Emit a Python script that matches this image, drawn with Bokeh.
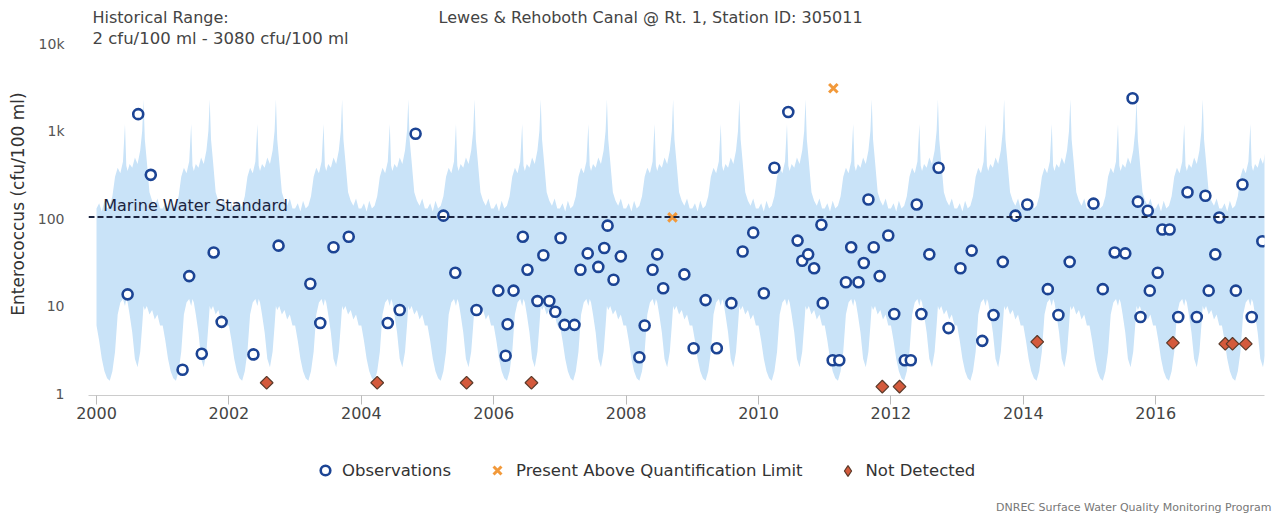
import math
from bokeh.plotting import figure
from bokeh.layouts import column, row
from bokeh.models import Span, Label, Legend, LegendItem, FixedTicker
from bokeh.embed import file_html
from bokeh.resources import INLINE

# ---------------- data ----------------
obs_x = [2000.47, 2000.63, 2000.82, 2001.30, 2001.40, 2001.59, 2001.77, 2001.89, 2002.37, 2002.75,
         2003.23, 2003.38, 2003.58, 2003.81, 2004.40, 2004.58, 2004.82, 2005.24, 2005.42, 2005.74,
         2006.07, 2006.18, 2006.21, 2006.30, 2006.44, 2006.51, 2006.66, 2006.75, 2006.84, 2006.93,
         2007.01, 2007.07, 2007.22, 2007.31, 2007.42, 2007.58, 2007.67, 2007.72, 2007.81, 2007.92,
         2008.20, 2008.28, 2008.40, 2008.47, 2008.56, 2008.88, 2009.02, 2009.20, 2009.37, 2009.59,
         2009.76, 2009.92, 2010.08, 2010.24, 2010.45, 2010.59, 2010.66, 2010.75, 2010.84, 2010.95,
         2010.97, 2011.12, 2011.22, 2011.32, 2011.40, 2011.51, 2011.59, 2011.66, 2011.74, 2011.83,
         2011.96, 2012.05, 2012.21, 2012.30, 2012.39, 2012.46, 2012.58, 2012.72, 2012.87, 2013.05,
         2013.22, 2013.38, 2013.55, 2013.69, 2013.88, 2014.06, 2014.37, 2014.53, 2014.70, 2015.06,
         2015.20, 2015.38, 2015.54, 2015.65, 2015.73, 2015.77, 2015.88, 2015.91, 2016.03, 2016.10,
         2016.21, 2016.34, 2016.48, 2016.62, 2016.75, 2016.80, 2016.90, 2016.96, 2017.21, 2017.31,
         2017.45, 2017.61]
obs_y = [13.6, 1560, 316, 1.87, 22, 2.85, 41, 6.6, 2.8, 49,
         18, 6.4, 47, 62, 6.4, 9, 930, 108, 24, 9,
         15, 2.7, 6.2, 15, 62, 26, 11.4, 38, 11.4, 8.6,
         60, 6.1, 6.1, 26, 40, 28, 46, 83, 20, 37,
         2.6, 6.0, 26, 39, 16, 23, 3.3, 11.7, 3.3, 10.8,
         42, 69, 14, 380, 1650, 56, 33, 39, 27, 85,
         10.8, 2.4, 2.4, 18.7, 47, 18.7, 31, 165, 47, 22,
         64, 8.1, 2.4, 2.4, 145, 8.1, 39, 380, 5.6, 27,
         43, 4.0, 7.9, 32, 108, 145, 15.6, 7.9, 32, 148,
         15.6, 41, 40, 2370, 156, 7.5, 123, 15, 24, 75,
         75, 7.5, 200, 7.5, 182, 15, 39, 103, 15, 245,
         7.5, 55]

paql_x = [2008.70, 2011.13]
paql_y = [103, 3080]

nd_x = [2002.57, 2004.24, 2005.59, 2006.57, 2011.87, 2012.13, 2014.21, 2016.26, 2017.05, 2017.16, 2017.36]
nd_y = [1.33, 1.33, 1.33, 1.33, 1.2, 1.2, 3.9, 3.8, 3.7, 3.7, 3.7]

# historical range by time of year (same profile every year)
band_frac = [0.00, 0.04, 0.08, 0.12, 0.16, 0.20, 0.24, 0.28, 0.32, 0.36, 0.40, 0.43, 0.45, 0.47,
             0.50, 0.54, 0.58, 0.62, 0.66, 0.69, 0.71, 0.73, 0.76, 0.80, 0.84, 0.88, 0.92, 0.96]
band_upper = [130, 150, 120, 160, 130, 140, 180, 300, 380, 330, 450, 1200, 400, 350,
              420, 380, 500, 420, 600, 1000, 2300, 800, 450, 200, 160, 140, 170, 130]
band_lower = [6, 4, 2.5, 1.8, 1.5, 1.4, 1.8, 3, 8, 11, 12, 10, 12, 11,
              8, 5, 2.5, 2, 3, 6, 10, 9, 10, 8, 9, 7, 8, 6]
band_years = list(range(2000, 2018))

standard = 104
x_ticks = [2000, 2002, 2004, 2006, 2008, 2010, 2012, 2014, 2016]
y_ticks = [1, 10, 100, 1000, 10000]
y_tick_labels = ["1", "10", "100", "1k", "10k"]

title_text = "Lewes & Rehoboth Canal @ Rt. 1, Station ID: 305011"
range_text_1 = "Historical Range:"
range_text_2 = "2 cfu/100 ml - 3080 cfu/100 ml"
y_label_text = "Enterococcus (cfu/100 ml)"
footer_text = "DNREC Surface Water Quality Monitoring Program"
legend_labels = ["Observations", "Present Above Quantification Limit", "Not Detected"]

# ---------------- styles ----------------
FONT = "DejaVu Sans"
OBS = dict(marker="circle", size=10, line_color="#1c4494", line_width=2.6, fill_color="white")
PAQL = dict(marker="x", size=12, line_color="#f2993a", line_width=3)
ND = dict(marker="square", angle=0.785398, size=9, fill_color="#d45a3c",
          line_color="#5a3a2a", line_width=1.2)
ND_LEG = dict(marker="diamond", size=9, fill_color="#d45a3c",
              line_color="#5a3a2a", line_width=1.2)

# ---------------- band ----------------
bx, blo, bhi = [], [], []
for yr in band_years:
    for f, lo, hi in zip(band_frac, band_lower, band_upper):
        bx.append(yr + f)
        blo.append(lo)
        bhi.append(hi)
bx.append(band_years[-1] + 1.0)
blo.append(band_lower[0])
bhi.append(band_upper[0])

# page geometry: frame from y=0 (top of canvas) to y=395, 87.5 px per decade
PX_DEC = 87.5
Y_LO = 0.95
Y_HI = 10 ** (math.log10(Y_LO) + 395 / PX_DEC)


def yv(py):
    return 10 ** (math.log10(Y_LO) + (395 - py) / PX_DEC)


def clean(fig):
    fig.outline_line_color = None
    fig.xgrid.visible = False
    fig.ygrid.visible = False
    fig.background_fill_color = "white"
    fig.border_fill_color = "white"


# ---------------- main figure ----------------
p = figure(width=1242, height=425, y_axis_type="log",
           x_range=(1999.879, 2017.643), y_range=(Y_LO, Y_HI),
           output_backend="svg", toolbar_location=None,
           min_border_left=58, min_border_right=8, min_border_top=0, min_border_bottom=30)
clean(p)

p.varea(x=bx, y1=blo, y2=bhi, fill_color="#c9e3f8", fill_alpha=1.0)

p.add_layout(Span(location=standard, dimension="width", line_color="#1b2440",
                  line_width=2, line_dash="6 3"))
p.add_layout(Label(x=2000.1, y=standard, y_offset=2, text="Marine Water Standard",
                   text_font=FONT, text_font_size="16px", text_color="#1b2440",
                   text_baseline="bottom", text_align="left"))

p.scatter(obs_x, obs_y, **OBS)
p.scatter(paql_x, paql_y, **PAQL)
p.scatter(nd_x, nd_y, **ND)

xa = p.xaxis[0]
xa.ticker = FixedTicker(ticks=x_ticks)
xa.axis_line_color = "#cccccc"
xa.major_tick_line_color = "#bbbbbb"
xa.major_tick_out = 9
xa.major_tick_in = 0
xa.minor_tick_line_color = None
xa.major_label_standoff = 2
xa.major_label_text_font = FONT
xa.major_label_text_font_size = "16px"
xa.major_label_text_color = "#444444"

ya = p.yaxis[0]
ya.ticker = FixedTicker(ticks=y_ticks)
ya.major_label_overrides = {t: lab for t, lab in zip(y_ticks, y_tick_labels)}
ya.axis_line_color = None
ya.major_tick_line_color = None
ya.minor_tick_line_color = None
ya.major_label_standoff = 18
ya.major_label_text_font = FONT
ya.major_label_text_font_size = "14px"
ya.major_label_text_color = "#555555"

p.add_layout(Label(x=2008.37, y=yv(17), text=title_text,
                   text_font=FONT, text_font_size="16px", text_color="#444444",
                   text_align="center", text_baseline="middle"))
p.add_layout(Label(x=1999.94, y=yv(17), text=range_text_1,
                   text_font=FONT, text_font_size="16px", text_color="#444444",
                   text_align="left", text_baseline="middle"))
p.add_layout(Label(x=1999.94, y=yv(38), text=range_text_2,
                   text_font=FONT, text_font_size="16.5px", text_color="#444444",
                   text_align="left", text_baseline="middle"))

# ---------------- y-label strip ----------------
yl = figure(width=30, height=425, x_range=(0, 30), y_range=(425, 0),
            output_backend="svg", toolbar_location=None,
            min_border_left=0, min_border_right=0, min_border_top=0, min_border_bottom=0)
clean(yl)
yl.axis.visible = False
yl.add_layout(Label(x=17, y=219, text=y_label_text, angle=math.pi / 2,
                    text_font=FONT, text_font_size="17px", text_color="#333333",
                    text_align="center", text_baseline="middle"))

# ---------------- footer: legend + credit ----------------
ft = figure(width=1272, height=90, x_range=(0, 1272), y_range=(515, 425),
            output_backend="svg", toolbar_location=None,
            min_border_left=0, min_border_right=0, min_border_top=0, min_border_bottom=0)
clean(ft)
ft.axis.visible = False
NAN = [float("nan")]
lr_obs = ft.scatter(x=NAN, y=NAN, **OBS)
lr_paql = ft.scatter(x=NAN, y=NAN, **PAQL)
lr_nd = ft.scatter(x=NAN, y=NAN, **ND_LEG)


def add_leg(label, rend, center_x, center_y, g):
    leg = Legend(items=[LegendItem(label=label, renderers=[rend], index=0)],
                 location=(center_x - g / 2, 515 - (center_y + g / 2)),
                 orientation="horizontal", glyph_width=g, glyph_height=g,
                 label_standoff=5, padding=0, margin=0, border_line_color=None,
                 background_fill_alpha=0, label_text_font=FONT, label_text_font_size="16.5px",
                 label_text_color="#333333", label_height=g)
    ft.add_layout(leg, "center")


add_leg(legend_labels[0], lr_obs, 325, 470, 24)
add_leg(legend_labels[1], lr_paql, 497, 470, 28)
add_leg(legend_labels[2], lr_nd, 847, 470, 27)

ft.add_layout(Label(x=1271, y=507, text=footer_text,
                    text_font=FONT, text_font_size="11px", text_color="#777777",
                    text_align="right", text_baseline="middle"))

layout = column(row(yl, p, spacing=0), ft, spacing=0)
open("out.html", "w").write(file_html(layout, INLINE))
